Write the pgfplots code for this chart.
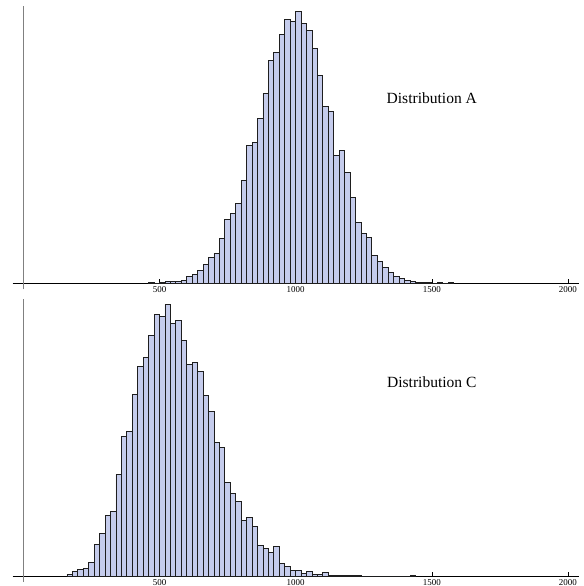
\documentclass[border=0pt]{standalone}
\usepackage{fontspec}
\setmainfont{Liberation Serif}
\usepackage{pgfplots}
\pgfplotsset{compat=1.18}

\definecolor{barfill}{RGB}{197,204,236}
\definecolor{baredge}{RGB}{30,30,30}

\pgfplotsset{
  histo/.style={
    scale only axis,
    width=566.3bp, height=283bp,
    xmin=-40, xmax=2040,
    ymin=-6, ymax=277,
    axis x line=middle,
    axis y line=middle,
    x axis line style={-, black, line width=0.8bp},
    y axis line style={-, gray, line width=1.2bp},
    xtick={500,1000,1500,2000},
    ytick=\empty,
    tick align=inside,
    major tick length=4bp,
    xtick style={black, line width=0.5bp},
    xticklabel style={font=\fontsize{9}{9}\selectfont, inner sep=0bp, yshift=-3.5bp},
    /pgf/number format/assume math mode=true,
    /pgf/number format/1000 sep={},
    clip=false,
  },
  bars/.style={ybar interval, fill=barfill, draw=baredge, line width=0.8bp},
}

\begin{document}
\begin{tikzpicture}

% top panel
\begin{axis}[histo, at={(12.51bp,-289.3bp)}, anchor=south west]
\addplot[bars] coordinates {
(460,1) (480,0.3) (500,0.7) (520,2) (540,1.7) (560,1.7) (580,3)
(600,7) (620,8.7) (640,12.7) (660,19) (680,26) (700,30) (720,45)
(740,64) (760,70) (780,80) (800,103) (820,138) (840,141) (860,165)
(880,190) (900,223) (920,231) (940,249) (960,264) (980,262) (1000,272)
(1020,260) (1040,252.7) (1060,234.7) (1080,208) (1100,177.3) (1120,172.3)
(1140,128) (1160,132.7) (1180,111) (1200,86) (1220,61) (1240,50.3)
(1260,45.7) (1280,28) (1300,21.7) (1320,16.3) (1340,10.7) (1360,7.3)
(1380,5) (1400,2.7) (1420,1.7) (1440,1) (1460,1) (1480,1) (1500,0)
(1520,0.7) (1540,0) (1560,0.7) (1580,0)
};
\node[font=\fontsize{15.6}{16}\selectfont] at (axis cs:1500,185) {Distribution A};
\end{axis}

% bottom panel
\begin{axis}[histo, at={(12.51bp,-582bp)}, anchor=south west]
\addplot[bars] coordinates {
(160,1.7) (180,4.3) (200,7) (220,7.3) (240,13.7) (260,31.3) (280,42.7)
(300,60.3) (320,64.7) (340,101.7) (360,139.7) (380,144.7) (400,181.7)
(420,209.3) (440,218.7) (460,240.7) (480,262) (500,259.3) (520,271.7)
(540,252.7) (560,256) (580,235.7) (600,211.7) (620,213.7) (640,204.7)
(660,180.7) (680,164.7) (700,133.7) (720,128.7) (740,94) (760,82.7)
(780,74.7) (800,56) (820,58.3) (840,49.7) (860,30.7) (880,28)
(900,23.7) (920,29.3) (940,12.7) (960,9.3) (980,6) (1000,6)
(1020,3) (1040,4.3) (1060,2) (1080,2) (1100,3.3) (1120,1)
(1140,0.7) (1160,0.7) (1180,0.7) (1200,0.7) (1220,0.7) (1240,0)
(1260,0) (1280,0) (1300,0) (1320,0) (1340,0) (1360,0) (1380,0)
(1400,0) (1420,0.7) (1440,0)
};
\node[font=\fontsize{15.6}{16}\selectfont] at (axis cs:1500,193.7) {Distribution C};
\end{axis}

\pgfresetboundingbox
\path[use as bounding box] (0bp,0bp) rectangle (584bp,-586bp);
\end{tikzpicture}
\end{document}
